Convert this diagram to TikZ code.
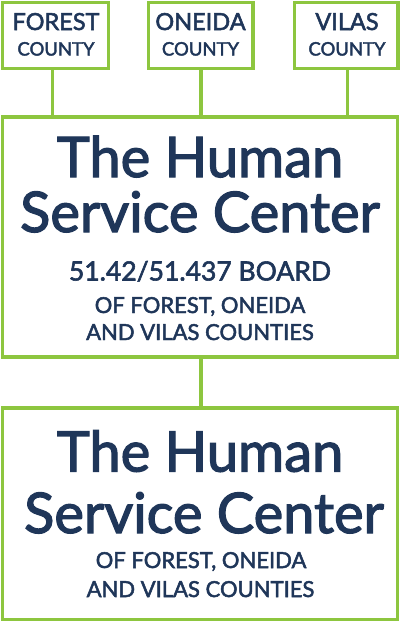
\documentclass[tikz,border=0pt]{standalone}
\usepackage{fontspec}
\setmainfont{Lato}[FakeBold=2.2,UprightFont={*},BoldFont={*}]
\definecolor{navy}{HTML}{1F3659}
\definecolor{lime}{HTML}{8DC63F}
\tikzset{
  box/.style={draw=lime, line width=3.2pt, fill=white},
  link/.style={draw=lime, line width=3.2pt},
  txt/.style={anchor=base, inner sep=0pt, text=navy},
  county/.style={txt, font=\bfseries\fontsize{23.5}{23.5}\selectfont},
  countysub/.style={txt, font=\bfseries\fontsize{18.5}{18.5}\selectfont},
  big/.style={txt, font=\bfseries\fontsize{56}{56}\selectfont},
  board/.style={txt, font=\bfseries\fontsize{26.5}{26.5}\selectfont},
  small/.style={txt, font=\bfseries\fontsize{22}{22}\selectfont},
}
\begin{document}
\begin{tikzpicture}[x=1pt,y=-1pt]
\useasboundingbox (0,0) rectangle (400,622);
% connector anchor coordinates
\coordinate (fb) at (52.5,68.5);
\coordinate (ob) at (201,68.5);
\coordinate (vb) at (347.5,68.5);
\coordinate (ft) at (52.5,117);
\coordinate (ot) at (201,117);
\coordinate (vt) at (347.5,117);
\coordinate (mb) at (201,357);
\coordinate (mt) at (201,408);
\draw[link] (fb) -- (ft);
\draw[link] (ob) -- (ot);
\draw[link] (vb) -- (vt);
\draw[link] (mb) -- (mt);
% boxes
\draw[box] (2.5,2.5) rectangle (108.5,68.5);
\draw[box] (148.7,2.5) rectangle (253,68.5);
\draw[box] (294.5,2.5) rectangle (398,68.5);
\draw[box] (2.5,117) rectangle (397.5,357);
\draw[box] (2.5,408) rectangle (397.5,619.5);
% county texts
\node[county] (f1) at (56,30) {FOREST};
\node[countysub] (f2) at (56,55.5) {COUNTY};
\node[county] (o1) at (200.5,30) {ONEIDA};
\node[countysub] (o2) at (200.5,55.5) {COUNTY};
\node[county] (v1) at (347,30) {VILAS};
\node[countysub] (v2) at (347,55.5) {COUNTY};
% board box
\node[big] (a1) at (200,177) {The Human};
\node[big] (a2) at (200,232) {Service Center};
\node[board] (a3) at (200,280.5) {51.42/51.437 BOARD};
\node[small] (a4) at (200,313) {OF FOREST, ONEIDA};
\node[small] (a5) at (200,340) {AND VILAS COUNTIES};
% center box
\node[big] (b1) at (200,471.5) {The Human};
\node[big] (b2) at (204,533) {Service Center};
\node[small] (b4) at (201,568) {OF FOREST, ONEIDA};
\node[small] (b5) at (200.5,597) {AND VILAS COUNTIES};
\end{tikzpicture}
\end{document}
